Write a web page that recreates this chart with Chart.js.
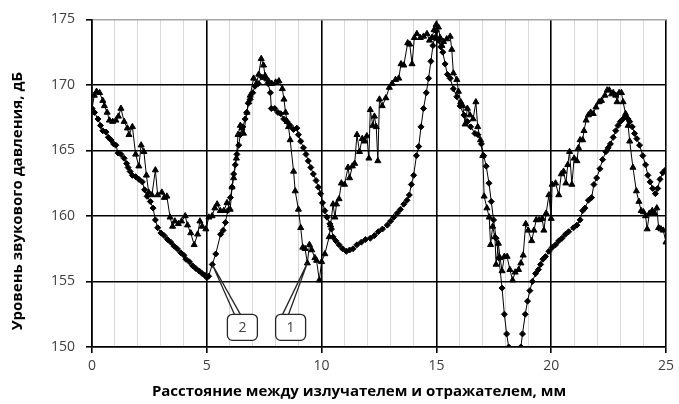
<!DOCTYPE html>
<html><head><meta charset="utf-8">
<script src="https://cdn.jsdelivr.net/npm/chart.js@4/dist/chart.umd.min.js"></script>
<style>html,body{margin:0;padding:0;background:#fff}#wrap{width:679px;height:404px}</style>
</head><body><div id="wrap"><canvas id="c" width="679" height="404"></canvas></div>
<script>
// Series 1 (triangles)
const s1X = [0,0.1,0.2,0.33,0.47,0.54,0.66,0.76,0.9,1.04,1.15,1.26,1.4,1.54,1.61,1.76,1.9,2.04,2.14,2.26,2.37,2.47,2.61,2.76,2.86,3.04,3.15,3.26,3.4,3.51,3.61,3.76,3.9,4.06,4.16,4.3,4.45,4.6,4.7,4.8,4.96,5.09,5.23,5.35,5.45,5.59,5.74,5.88,6.02,6.1,6.17,6.29,6.36,6.46,6.53,6.6,6.75,6.82,6.89,7.04,7.16,7.26,7.37,7.47,7.54,7.69,7.83,8.0,8.14,8.29,8.36,8.43,8.5,8.56,8.63,8.78,8.85,8.99,9.09,9.18,9.28,9.38,9.47,9.57,9.71,9.78,9.9,10.0,10.14,10.33,10.39,10.5,10.58,10.65,10.76,10.86,11.0,11.15,11.22,11.34,11.44,11.54,11.65,11.77,11.88,11.97,12.06,12.12,12.23,12.3,12.38,12.45,12.52,12.64,12.8,12.95,13.07,13.22,13.36,13.46,13.58,13.75,13.84,13.94,14.04,14.15,14.3,14.44,14.59,14.7,14.8,14.9,14.99,15.09,15.16,15.24,15.31,15.45,15.6,15.67,15.74,15.89,15.96,16.06,16.15,16.25,16.35,16.46,16.6,16.72,16.8,16.92,17.02,17.08,17.2,17.3,17.36,17.45,17.55,17.6,17.7,17.77,17.86,17.96,18.08,18.2,18.32,18.43,18.58,18.68,18.78,18.89,19.0,19.15,19.25,19.35,19.47,19.61,19.68,19.78,19.9,20.0,20.04,20.19,20.33,20.44,20.54,20.64,20.72,20.8,20.9,21.0,21.12,21.19,21.26,21.37,21.43,21.52,21.62,21.72,21.83,21.95,22.09,22.19,22.34,22.44,22.53,22.63,22.7,22.81,22.87,22.96,23.06,23.13,23.24,23.35,23.42,23.56,23.71,23.82,23.92,24.02,24.11,24.18,24.28,24.4,24.5,24.6,24.68,24.78,24.88,25.0];
const s1Y = [168.2,169.2,169.5,169.4,168.8,168.4,167.9,167.3,167.2,167.3,167.6,168.2,167.2,166.7,166.2,166.8,164.7,163.8,165.4,164.9,163.1,161.8,161.6,163.5,161.6,161.8,161.4,161.5,159.9,159.2,159.6,159.4,159.6,160.0,159.3,158.7,157.8,158.6,159.6,159.2,159.0,159.9,160.0,160.6,160.9,160.4,160.4,161.0,160.5,162.2,162.9,164.4,166.2,166.9,166.7,166.3,167.9,168.7,169.2,170.5,170.1,170.8,172.0,171.5,170.7,170.3,170.1,170.2,170.3,169.7,168.9,167.9,167.2,166.8,165.8,163.4,161.9,160.5,159.1,157.6,157.5,156.4,157.8,157.4,156.8,156.6,155.1,156.5,157.1,158.4,159.3,160.9,159.9,160.9,161.3,162.5,162.4,163.7,162.9,163.8,164.0,166.2,164.9,165.9,165.7,166.1,164.4,168.1,166.9,167.6,166.8,164.2,168.9,168.4,169.0,169.8,170.1,170.4,170.5,171.6,171.5,173.2,173.1,171.6,173.6,173.9,173.6,173.7,173.9,173.4,173.6,174.2,174.6,174.4,173.6,173.0,173.3,173.5,173.7,172.7,170.9,170.4,169.5,168.7,168.4,167.0,168.2,167.7,167.4,168.7,166.8,165.8,164.6,161.5,160.6,159.9,157.8,159.2,158.4,156.3,157.9,156.8,155.8,156.9,156.9,155.9,155.1,155.7,155.9,156.4,157.0,159.4,158.9,158.1,158.9,159.7,159.7,159.8,158.9,160.2,161.6,159.8,162.4,162.5,161.6,163.2,163.4,162.5,163.9,164.9,162.4,164.4,164.2,165.2,165.8,165.8,166.5,167.3,167.7,167.9,167.8,168.3,168.7,168.8,169.2,169.6,169.6,169.3,169.4,169.2,168.7,169.4,169.4,168.7,167.8,166.9,165.7,163.7,161.9,161.1,160.4,160.3,160.0,159.0,160.2,160.4,160.2,160.6,159.1,159.0,158.9,158.0];
// Series 2 (diamonds)
const s2X = [0,0.11,0.26,0.37,0.47,0.61,0.71,0.83,0.94,1.04,1.14,1.26,1.4,1.51,1.57,1.66,1.76,1.9,2.04,2.19,2.29,2.4,2.54,2.66,2.76,2.86,3.0,3.14,3.29,3.43,3.57,3.71,3.86,4.0,4.09,4.24,4.38,4.52,4.67,4.8,4.9,5.0,5.08,5.24,5.39,5.6,5.71,5.81,5.91,6.03,6.1,6.17,6.24,6.31,6.39,6.46,6.57,6.67,6.74,6.81,6.89,7.0,7.1,7.24,7.39,7.53,7.67,7.77,7.81,7.96,8.1,8.22,8.35,8.49,8.63,8.78,8.92,8.99,9.09,9.21,9.32,9.42,9.53,9.64,9.76,9.86,9.96,10.04,10.14,10.24,10.36,10.43,10.5,10.62,10.76,10.91,11.08,11.22,11.37,11.54,11.73,11.91,12.12,12.3,12.47,12.65,12.86,13.0,13.14,13.29,13.43,13.58,13.72,13.82,13.91,14.01,14.13,14.23,14.33,14.44,14.56,14.66,14.76,14.85,14.92,14.99,15.09,15.19,15.28,15.38,15.48,15.6,15.74,15.89,16.03,16.2,16.35,16.49,16.68,16.81,16.96,17.06,17.17,17.29,17.39,17.49,17.6,17.72,17.86,17.96,18.06,18.15,18.3,18.55,18.68,18.75,18.87,18.97,19.07,19.18,19.32,19.44,19.54,19.64,19.75,19.9,20.04,20.19,20.33,20.47,20.62,20.76,20.97,21.12,21.26,21.37,21.47,21.62,21.76,21.86,21.98,22.12,22.24,22.38,22.48,22.58,22.7,22.81,22.91,23.01,23.13,23.24,23.35,23.42,23.53,23.63,23.73,23.85,23.99,24.11,24.21,24.31,24.42,24.54,24.64,24.74,24.86,24.97];
const s2Y = [168.2,167.9,167.4,166.9,166.5,166.4,166.0,165.8,165.5,165.4,164.8,164.7,164.4,164.0,163.7,163.4,163.1,163.0,162.8,162.6,162.0,161.5,161.1,160.6,159.7,159.1,158.7,158.5,158.2,158.0,157.7,157.5,157.2,157.0,156.7,156.5,156.2,156.0,155.8,155.6,155.5,155.3,155.4,156.3,157.1,158.6,158.9,159.5,160.4,161.4,162.2,163.2,163.9,164.7,165.4,166.2,166.8,167.4,167.9,168.6,168.9,169.4,169.9,170.1,170.6,170.5,170.1,169.4,168.2,168.2,167.9,167.8,167.4,167.2,166.9,166.6,166.7,166.2,165.7,165.2,164.7,164.2,163.7,163.2,162.7,162.2,161.7,161.0,160.4,159.9,159.4,159.0,158.4,158.1,157.8,157.5,157.3,157.4,157.5,157.8,158.0,158.2,158.3,158.5,158.8,159.0,159.3,159.6,159.9,160.2,160.5,160.9,161.2,161.6,162.4,163.1,164.6,165.3,166.8,168.2,169.4,170.5,171.8,173.0,173.6,174.1,173.4,172.9,172.5,171.6,170.8,170.5,169.7,169.1,168.4,167.7,167.2,166.8,166.3,166.2,165.5,164.6,163.8,162.5,161.1,159.7,158.3,156.8,154.5,152.5,151.0,150.0,147.5,147.5,150.0,151.0,152.5,153.5,154.3,155.0,155.6,155.9,156.3,156.7,156.9,157.3,157.6,157.8,158.1,158.3,158.6,158.8,159.1,159.3,159.7,160.4,160.6,161.2,161.4,162.4,162.9,163.6,164.3,164.9,165.2,165.5,166.0,166.5,166.9,167.2,167.4,167.6,167.4,167.2,166.8,166.3,165.9,165.4,164.6,163.9,163.1,162.6,162.1,161.7,162.1,162.8,163.3,163.5];
const xTickValues = [0,5,10,15,20,25];
const yTickValues = [150,155,160,165,170,175];
const xTitle = 'Расстояние между излучателем и отражателем, мм';
const yTitle = 'Уровень звукового давления, дБ';
const seriesNames = ['1','2'];

const pts = (xs, ys) => xs.map((x, i) => ({x, y: ys[i]}));

const titlePlugin = {
  id: 'axisTitles',
  afterDraw(chart) {
    const {ctx, chartArea: a} = chart;
    ctx.save();
    ctx.fillStyle = '#000';
    ctx.font = 'bold 15px "Open Sans"';
    ctx.textAlign = 'center';
    ctx.textBaseline = 'middle';
    ctx.fillText(xTitle, (a.left + a.right) / 2 - 20, chart.height - 12);
    ctx.translate(18, (a.top + a.bottom) / 2 + 18);
    ctx.rotate(-Math.PI / 2);
    ctx.fillText(yTitle, 0, 0);
    ctx.restore();
  }
};

const calloutPlugin = {
  id: 'callouts',
  afterDatasetsDraw(chart) {
    const {ctx, scales: {x, y}} = chart;
    const items = [
      {label: seriesNames[1], ds: 1, idx: s2X.indexOf(5.24), boxX: 6.55},
      {label: seriesNames[0], ds: 0, idx: s1X.indexOf(9.38), boxX: 8.65}
    ];
    ctx.save();
    items.forEach(it => {
      const tx = x.getPixelForValue(it.ds === 0 ? s1X[it.idx] : s2X[it.idx]);
      const ty = y.getPixelForValue(it.ds === 0 ? s1Y[it.idx] : s2Y[it.idx]);
      const cx = x.getPixelForValue(it.boxX);
      const cy = y.getPixelForValue(151.5);
      const w = 30, h = 26, r = 5;
      const bx = cx - w / 2, by = cy - h / 2;
      ctx.fillStyle = '#fff';
      ctx.strokeStyle = '#262626';
      ctx.lineWidth = 1.3;
      ctx.beginPath();
      ctx.roundRect(bx, by, w, h, r);
      ctx.fill();
      ctx.stroke();
      ctx.beginPath();
      ctx.moveTo(cx - 8, by);
      ctx.lineTo(tx, ty);
      ctx.lineTo(cx - 2, by);
      ctx.stroke();
      ctx.fillStyle = '#404040';
      ctx.font = '14px "Open Sans"';
      ctx.textAlign = 'center';
      ctx.textBaseline = 'middle';
      ctx.fillText(it.label, cx, cy + 1);
    });
    ctx.restore();
  }
};

new Chart(document.getElementById('c'), {
  type: 'scatter',
  data: {
    datasets: [
      {label: seriesNames[0], data: pts(s1X, s1Y), showLine: true, borderColor: '#000', borderWidth: 1,
       backgroundColor: '#000', pointBackgroundColor: '#000', pointBorderColor: '#000', pointStyle: 'triangle', pointRadius: 3.5, pointBorderWidth: 1},
      {label: seriesNames[1], data: pts(s2X, s2Y), showLine: true, borderColor: '#000', borderWidth: 1,
       backgroundColor: '#000', pointBackgroundColor: '#000', pointBorderColor: '#000', pointStyle: 'rectRot', pointRadius: 3, pointBorderWidth: 1}
    ]
  },
  options: {
    responsive: false, animation: false, devicePixelRatio: 1,
    layout: {padding: {top: 17, right: 9, left: 0, bottom: 0}},
    plugins: {legend: {display: false}, tooltip: {enabled: false}},
    scales: {
      x: {
        type: 'linear', min: 0, max: 25,
        afterFit: s => { s.height = 57; },
        ticks: {stepSize: 1, autoSkip: false, maxRotation: 0, color: '#404040', font: {family: 'Open Sans', size: 14}, padding: 5,
          callback: v => xTickValues.includes(v) ? String(v) : ''},
        grid: {
          color: c => xTickValues.includes(c.tick.value) ? '#000' : '#d9d9d9',
          lineWidth: c => xTickValues.includes(c.tick.value) ? 1.6 : 1,
          tickColor: c => xTickValues.includes(c.tick.value) ? '#000' : 'rgba(0,0,0,0)',
          tickLength: 6
        },
        border: {display: true, color: '#000', width: 1.6},
        title: {display: false}
      },
      y: {
        min: 150, max: 175,
        afterFit: s => { s.width = 92; },
        afterBuildTicks: s => { s.ticks = yTickValues.map(v => ({value: v})); },
        ticks: {color: '#404040', font: {family: 'Open Sans', size: 14}, padding: 11},
        grid: {
          color: c => c.tick.value === 175 ? '#a6a6a6' : '#000',
          lineWidth: 1.6,
          tickColor: '#000',
          tickLength: 6
        },
        border: {display: true, color: '#000', width: 1.6},
        title: {display: false}
      }
    }
  },
  plugins: [calloutPlugin, titlePlugin]
});
</script>
</body></html>
